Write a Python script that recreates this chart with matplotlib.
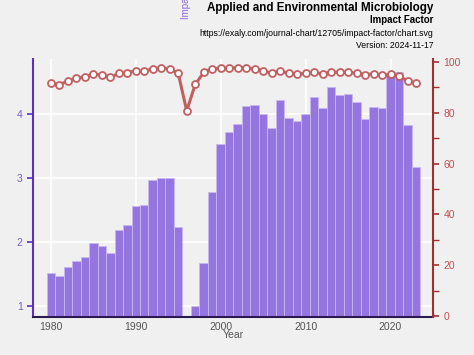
import matplotlib
matplotlib.use("Agg")
import matplotlib.pyplot as plt
from matplotlib.ticker import MultipleLocator

plt.rcParams['font.family'] = ['Liberation Sans', 'DejaVu Sans']

years = list(range(1980, 2024))
impact = [1.51, 1.46, 1.61, 1.70, 1.77, 1.98, 1.93, 1.82, 2.18, 2.26,
          2.57, 2.58, 2.97, 3.00, 3.00, 2.23, None, 1.00, 1.67, 2.79,
          3.53, 3.72, 3.85, 4.13, 4.15, 4.00, 3.79, 4.22, 3.94, 3.89,
          4.00, 4.27, 4.10, 4.43, 4.31, 4.32, 4.19, 3.93, 4.11, 4.10,
          4.61, 4.67, 3.83, 3.18]
percentile = [91.6, 91.1, 92.5, 93.6, 94.2, 95.3, 94.9, 94.0, 95.5, 95.8,
              96.6, 96.3, 97.4, 97.6, 97.4, 95.5, 80.8, 91.2, 95.9, 97.4,
              97.6, 97.6, 97.8, 97.8, 97.2, 96.6, 95.5, 96.6, 95.5, 95.3,
              95.5, 95.9, 95.3, 96.0, 96.0, 95.9, 95.6, 95.0, 95.4, 94.8,
              95.1, 94.4, 92.6, 91.6]

title = "Applied and Environmental Microbiology"
subtitle = "Impact Factor"
url = "https://exaly.com/journal-chart/12705/impact-factor/chart.svg"
version = "Version: 2024-11-17"

bg = "#f0f0f0"
fig = plt.figure(figsize=(4.74, 3.55), dpi=100, facecolor=bg)
ax = fig.add_axes([33/474, (355-317)/355, 400/474, 258/355], facecolor=bg)

bx = [y for y, v in zip(years, impact) if v is not None]
bv = [v for v in impact if v is not None]
ax.bar(bx, bv, width=1.0, color="#9575e0", edgecolor="#c9b8f0", linewidth=0.6, zorder=2)

ax.set_xlim(1977.9, 2025)
ax.set_ylim(0.823, 4.868)
ax.set_yticks([1, 2, 3, 4])
ax.xaxis.set_major_locator(MultipleLocator(10))
ax.xaxis.set_minor_locator(MultipleLocator(5))
ax.grid(True, color="white", linewidth=1.2, zorder=0)
ax.set_axisbelow(True)

purple = "#5a2fc8"
ax.spines['left'].set_color(purple)
ax.spines['left'].set_linewidth(1.5)
ax.spines['top'].set_visible(False)
ax.spines['right'].set_visible(False)
ax.spines['bottom'].set_color("#2a1a50")
ax.spines['bottom'].set_linewidth(1.5)
ax.tick_params(axis='y', colors=purple, labelcolor="#7a5cd0", labelsize=7.5, length=4, width=1.2, direction='out')
ax.tick_params(axis='x', which='major', colors="#2a1a60", labelcolor="#555555", labelsize=7.5, length=5, width=1.2, direction='in')
ax.tick_params(axis='x', which='minor', colors="#2a1a60", length=3, width=1.0, direction='in')

ax2 = ax.twinx()
ax2.plot(years, percentile, color="#c06060", linewidth=2.2, marker='o', markersize=5,
         markerfacecolor="white", markeredgecolor="#c06060", markeredgewidth=1.3, zorder=5)
ax2.set_ylim(-0.4, 101.2)
ax2.yaxis.set_major_locator(MultipleLocator(20))
ax2.yaxis.set_minor_locator(MultipleLocator(10))
red = "#a03030"
for s in ['left', 'top', 'bottom']:
    ax2.spines[s].set_visible(False)
ax2.spines['right'].set_color(red)
ax2.spines['right'].set_linewidth(1.5)
ax2.tick_params(axis='y', which='major', colors=red, labelcolor="#c05050", labelsize=7.5, length=4, width=1.2)
ax2.tick_params(axis='y', which='minor', colors=red, length=4, width=1.0)

ax.set_xlabel("Year", fontsize=7.5, color="#555555")
ax.xaxis.set_label_coords(0.5, -0.05)

fig.text(433/474, 1 - 8/355, title, ha='right', va='center', fontsize=8.4, fontweight='bold')
fig.text(433/474, 1 - 20/355, subtitle, ha='right', va='center', fontsize=7.0, fontweight='bold')
fig.text(433/474, 1 - 33/355, url, ha='right', va='center', fontsize=6.3)
fig.text(433/474, 1 - 45/355, version, ha='right', va='center', fontsize=6.2)
fig.text(186/474, 1 - 19/355, "Impact Factor", rotation=90, ha='center', va='bottom', fontsize=7.0, color="#8a6ad8")

fig.savefig("out.png", dpi=100, facecolor=bg)
